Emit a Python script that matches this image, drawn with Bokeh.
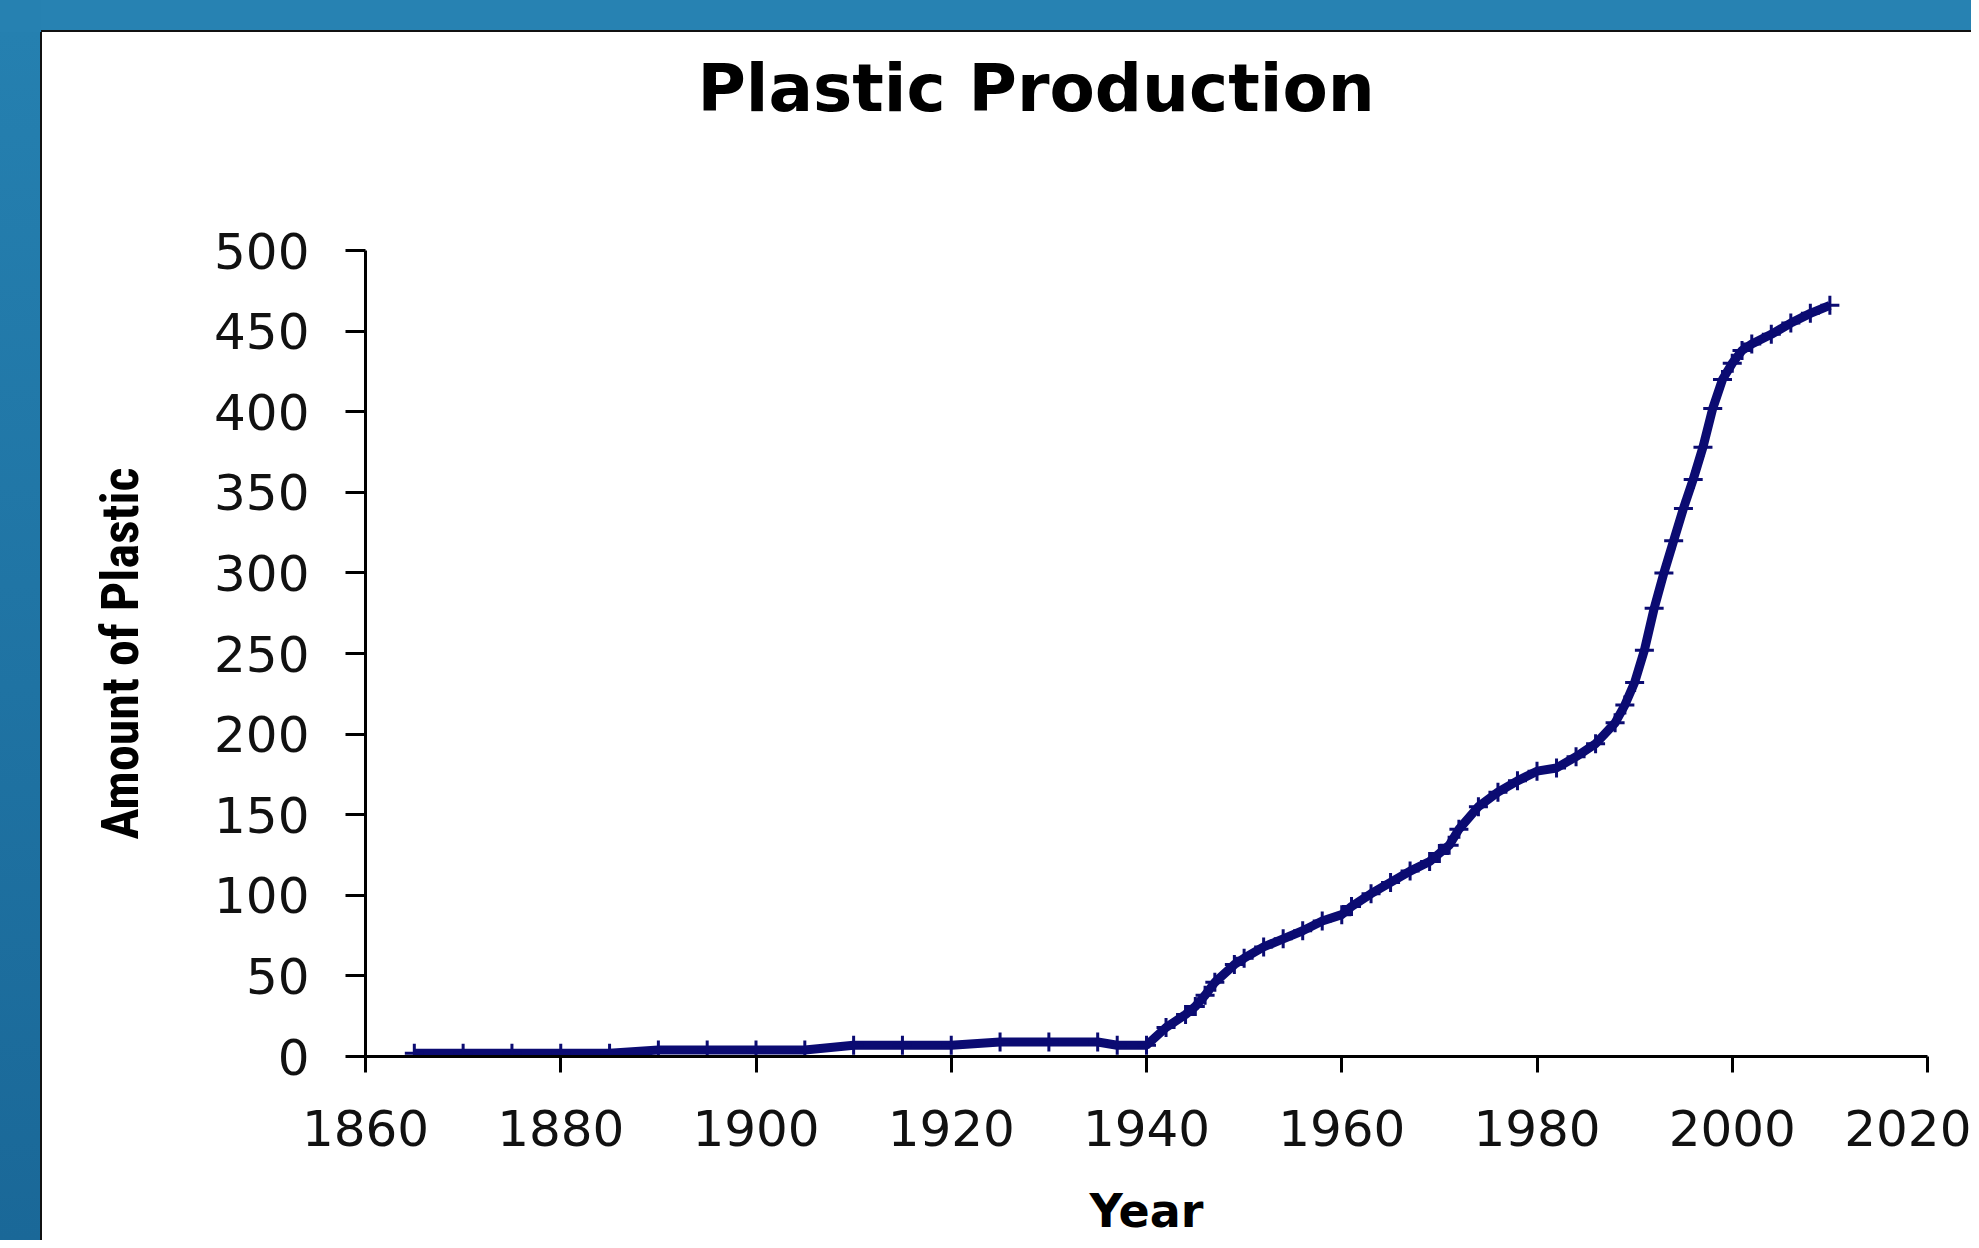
from bokeh.plotting import figure
from bokeh.models import Range1d, FixedTicker, Title, Div
from bokeh.layouts import column, row
from bokeh.embed import file_html
from bokeh.resources import INLINE

# ---- data ----
years = [1865, 1870, 1875, 1880, 1885, 1890, 1895, 1900, 1905, 1910, 1915, 1920,
         1925, 1930, 1935, 1937, 1940, 1942, 1944, 1945, 1946, 1947, 1949, 1950,
         1952, 1954, 1956, 1958, 1960, 1961, 1963, 1965, 1967, 1969, 1970, 1971,
         1972, 1974, 1976, 1978, 1980, 1982, 1984, 1986, 1988, 1989, 1990, 1991,
         1992, 1993, 1994, 1995, 1996, 1997, 1998, 1999, 2000, 2001, 2002, 2004,
         2006, 2008, 2010]
amounts = [2, 2, 2, 2, 2, 4, 4, 4, 4, 7, 7, 7,
           9, 9, 9, 7, 7, 18, 26, 31, 38, 46, 57, 61,
           68, 73, 78, 84, 88, 93, 101, 108, 115, 121, 126, 131,
           141, 155, 164, 171, 177, 179, 186, 194, 207, 218, 232, 252,
           278, 300, 320, 340, 358, 378, 402, 420, 430, 438, 442, 448,
           455, 461, 466]
x_ticks = [1860, 1880, 1900, 1920, 1940, 1960, 1980, 2000, 2020]
y_ticks = [0, 50, 100, 150, 200, 250, 300, 350, 400, 450, 500]
title_text = "Plastic Production"
x_label = "Year"
y_label = "Amount of Plastic"

LINE = "#0b0b72"
TOTAL_W, TOTAL_H = 1971, 1240
EDGE_L, EDGE_T = 42, 32            # blue slide edge (left / top)
W, H = TOTAL_W - EDGE_L, TOTAL_H - EDGE_T
ML, MR, MT, MB = 323, 44, 218, 182

p = figure(width=W, height=H, x_range=Range1d(1860, 2020), y_range=Range1d(0, 500),
           output_backend="svg", toolbar_location=None,
           min_border_left=ML, min_border_right=MR, min_border_top=MT, min_border_bottom=MB,
           border_fill_color="white", background_fill_color="white",
           outline_line_color=None)
p.xgrid.visible = False
p.ygrid.visible = False

# title (with an empty spacer title between it and the frame)
p.title.text = title_text
p.title.align = "left"
p.title.offset = 332
p.title.text_font = "DejaVu Sans"
p.title.text_font_style = "bold"
p.title.text_font_size = "66px"
p.title.text_color = "black"
p.add_layout(Title(text=" ", text_font_size="10px", standoff=106), "above")

for ax in (p.xaxis[0], p.yaxis[0]):
    ax.axis_line_color = "black"
    ax.axis_line_width = 3
    ax.major_tick_line_color = "black"
    ax.major_tick_line_width = 3
    ax.major_tick_in = 0
    ax.minor_tick_line_color = None
    ax.major_label_text_font = "DejaVu Sans"
    ax.major_label_text_font_size = "50px"
    ax.major_label_text_color = "#111111"
p.xaxis.ticker = FixedTicker(ticks=x_ticks)
p.yaxis.ticker = FixedTicker(ticks=y_ticks)
p.xaxis.major_tick_out = 16
p.yaxis.major_tick_out = 20
p.xaxis.major_label_standoff = 37
p.yaxis.major_label_standoff = 36

p.yaxis.axis_label = y_label
p.yaxis.axis_label_text_font = "Roboto Condensed"
p.yaxis.axis_label_text_font_style = "bold"
p.yaxis.axis_label_text_font_size = "52px"
p.yaxis.axis_label_text_color = "black"
p.yaxis.axis_label_standoff = 60
p.xaxis.axis_label = x_label
p.xaxis.axis_label_text_font = "DejaVu Sans"
p.xaxis.axis_label_text_font_style = "bold"
p.xaxis.axis_label_text_font_size = "46px"
p.xaxis.axis_label_text_color = "black"
p.xaxis.axis_label_standoff = 35

p.line(years, amounts, line_color=LINE, line_width=9)
p.scatter(years, amounts, marker="cross", size=19, line_color=LINE, line_width=3)

top_bar = Div(width=TOTAL_W, height=EDGE_T, margin=0, styles={
    "background": "linear-gradient(to right, #2681b1 41px, transparent 41px), "
                  "linear-gradient(to bottom, #2782b2 30px, #111111 30px)"})
left_bar = Div(width=EDGE_L, height=H, margin=0, styles={
    "background": "linear-gradient(to right, transparent 40px, #111111 40px), "
                  "linear-gradient(to bottom, #2580b0, #1a6898)"})

layout = column(top_bar, row(left_bar, p, spacing=0), spacing=0)

open("out.html", "w").write(file_html(layout, INLINE))
